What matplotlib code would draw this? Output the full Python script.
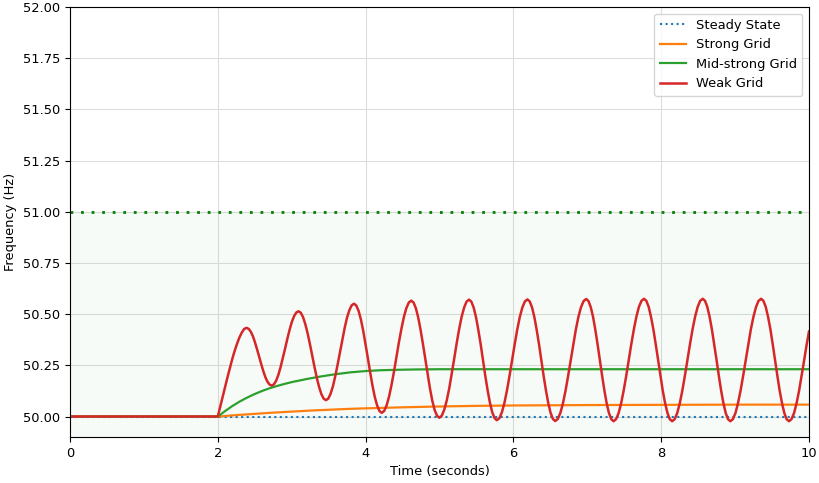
import matplotlib
matplotlib.use("Agg")
import matplotlib.pyplot as plt
from matplotlib.ticker import FormatStrFormatter

plt.rcParams["font.size"] = 9.4

# ---- data ----
steady_t = [0.0, 10.0]
steady_f = [50.0, 50.0]

strong_t = [0.0, 2.0, 2.25, 2.5, 2.75, 3.0, 3.25, 3.5, 3.75, 4.0, 4.5, 5.0, 5.5, 6.0, 7.0, 8.0, 9.0, 10.0]
strong_f = [50.0, 50.0, 50.007, 50.013, 50.019, 50.024, 50.029, 50.033, 50.037, 50.040, 50.045,
            50.049, 50.052, 50.054, 50.056, 50.057, 50.058, 50.058]

mid_t = [0.0, 2.0, 2.1, 2.2, 2.3, 2.4, 2.5, 2.6, 2.7, 2.8, 2.9, 3.0, 3.2, 3.4, 3.6, 3.8,
         4.0, 4.2, 4.4, 4.7, 5.0, 6.0, 8.0, 10.0]
mid_f = [50.0, 50.0, 50.027, 50.052, 50.074, 50.093, 50.110, 50.125, 50.138, 50.149, 50.159,
         50.168, 50.183, 50.196, 50.207, 50.216, 50.222, 50.226, 50.228, 50.230, 50.231,
         50.231, 50.231, 50.231]

weak_t = [0.0, 2.0,
          2.0325, 2.065, 2.0975, 2.13, 2.1625, 2.195, 2.2275, 2.26, 2.2925, 2.325, 2.3575, 2.39,
          2.418, 2.447, 2.475, 2.503, 2.531, 2.559, 2.588, 2.616, 2.644, 2.672, 2.701, 2.729,
          2.759, 2.790, 2.820, 2.850, 2.880, 2.911, 2.941, 2.971, 3.001, 3.032, 3.062, 3.092,
          3.123, 3.154, 3.185, 3.216, 3.247, 3.278, 3.309, 3.340, 3.371, 3.402, 3.433, 3.464,
          3.496, 3.527, 3.559, 3.590, 3.622, 3.654, 3.685, 3.717, 3.748, 3.780, 3.811, 3.843,
          3.874, 3.906, 3.937, 3.968, 3.999, 4.031, 4.062, 4.093, 4.124, 4.156, 4.187, 4.218,
          4.251, 4.285, 4.318, 4.351, 4.385, 4.418, 4.451, 4.485, 4.518, 4.551, 4.585, 4.618,
          4.650, 4.681, 4.713, 4.744, 4.776, 4.808, 4.839, 4.871, 4.902, 4.934, 4.966, 4.997,
          5.031, 5.064, 5.098, 5.132, 5.165, 5.199, 5.232, 5.266, 5.299, 5.333, 5.366, 5.400,
          5.431, 5.463, 5.494, 5.525, 5.557, 5.588, 5.619, 5.651, 5.682, 5.713, 5.745, 5.776,
          5.8105, 5.845, 5.8795, 5.914, 5.9485, 5.983, 6.0175, 6.052, 6.0865, 6.121, 6.1555, 6.190,
          6.221, 6.253, 6.284, 6.315, 6.347, 6.378, 6.409, 6.441, 6.472, 6.503, 6.535, 6.566,
          6.601, 6.636, 6.671, 6.706, 6.741, 6.776, 6.810, 6.845, 6.880, 6.915, 6.950, 6.985,
          7.016, 7.047, 7.078, 7.108, 7.139, 7.170, 7.201, 7.232, 7.262, 7.293, 7.324, 7.355,
          7.389, 7.424, 7.458, 7.492, 7.527, 7.561, 7.595, 7.630, 7.664, 7.698, 7.733, 7.767,
          7.799, 7.831, 7.862, 7.894, 7.926, 7.958, 7.989, 8.021, 8.053, 8.085, 8.116, 8.148,
          8.1825, 8.217, 8.2515, 8.286, 8.3205, 8.355, 8.3895, 8.424, 8.4585, 8.493, 8.5275, 8.562,
          8.593, 8.624, 8.655, 8.686, 8.717, 8.749, 8.780, 8.811, 8.842, 8.873, 8.904, 8.935,
          8.970, 9.005, 9.039, 9.074, 9.109, 9.144, 9.178, 9.213, 9.248, 9.283, 9.317, 9.352,
          9.383, 9.415, 9.446, 9.478, 9.509, 9.540, 9.572, 9.603, 9.635, 9.666, 9.697, 9.729,
          9.763, 9.798, 9.832, 9.866, 9.900, 9.935, 9.969, 10.0]
weak_f = [50.0, 50.0,
          50.048, 50.095, 50.143, 50.19, 50.236, 50.28, 50.32, 50.355, 50.386, 50.41, 50.428, 50.433,
          50.428, 50.414, 50.392, 50.3625, 50.3285, 50.292, 50.2555, 50.2215, 50.192, 50.170, 50.156, 50.151,
          50.157, 50.175, 50.204, 50.242, 50.2855, 50.3325, 50.3795, 50.423, 50.461, 50.490, 50.508, 50.514,
          50.507, 50.485, 50.450, 50.4055, 50.353, 50.297, 50.241, 50.1885, 50.144, 50.109, 50.087, 50.080,
          50.088, 50.112, 50.149, 50.198, 50.255, 50.3155, 50.376, 50.433, 50.482, 50.519, 50.543, 50.551,
          50.542, 50.515, 50.473, 50.418, 50.3535, 50.2845, 50.2155, 50.151, 50.096, 50.054, 50.027, 50.018,
          50.027, 50.055, 50.098, 50.155, 50.221, 50.292, 50.363, 50.429, 50.486, 50.529, 50.557, 50.566,
          50.556, 50.528, 50.482, 50.423, 50.354, 50.280, 50.206, 50.137, 50.078, 50.032, 50.004, 49.994,
          50.004, 50.033, 50.0785, 50.138, 50.208, 50.2825, 50.357, 50.427, 50.4865, 50.532, 50.561, 50.571,
          50.561, 50.5315, 50.485, 50.424, 50.353, 50.2765, 50.200, 50.129, 50.068, 50.0215, 49.992, 49.982,
          49.992, 50.0215, 50.068, 50.1295, 50.2005, 50.277, 50.353, 50.4245, 50.486, 50.5325, 50.562, 50.572,
          50.562, 50.532, 50.485, 50.4235, 50.352, 50.275, 50.198, 50.1265, 50.065, 50.018, 49.988, 49.978,
          49.988, 50.018, 50.065, 50.127, 50.199, 50.276, 50.353, 50.425, 50.487, 50.534, 50.564, 50.574,
          50.564, 50.534, 50.4865, 50.425, 50.353, 50.2755, 50.198, 50.126, 50.0645, 50.017, 49.987, 49.977,
          49.987, 50.017, 50.065, 50.1265, 50.199, 50.276, 50.353, 50.4255, 50.487, 50.535, 50.565, 50.575,
          50.565, 50.535, 50.487, 50.4255, 50.353, 50.276, 50.199, 50.1265, 50.065, 50.017, 49.987, 49.977,
          49.987, 50.017, 50.065, 50.1265, 50.199, 50.276, 50.353, 50.4255, 50.487, 50.535, 50.565, 50.575,
          50.565, 50.535, 50.487, 50.4255, 50.353, 50.276, 50.199, 50.1265, 50.065, 50.017, 49.987, 49.977,
          49.987, 50.017, 50.065, 50.1265, 50.199, 50.276, 50.353, 50.4255, 50.487, 50.535, 50.565, 50.575,
          50.565, 50.535, 50.487, 50.4255, 50.353, 50.276, 50.199, 50.1265, 50.065, 50.017, 49.987, 49.977,
          49.987, 50.017, 50.065, 50.1265, 50.199, 50.276, 50.353, 50.415]

limit_f = 51.0
series_labels = ["Steady State", "Strong Grid", "Mid-strong Grid", "Weak Grid"]

# ---- plot ----
fig = plt.figure(figsize=(8.19, 4.83), dpi=100)
ax = fig.add_axes([70 / 819, 1 - 437 / 483, (809 - 70) / 819, (437 - 7) / 483])

ax.axhspan(49.0, limit_f, color="green", alpha=0.03, lw=0)
ax.axhline(limit_f, color="green", lw=2, linestyle=(0, (1, 2.8)))

ax.plot(steady_t, steady_f, ":", color="C0", lw=1.5, label=series_labels[0])
ax.plot(strong_t, strong_f, color="C1", lw=1.6, label=series_labels[1])
ax.plot(mid_t, mid_f, color="C2", lw=1.6, label=series_labels[2])
ax.plot(weak_t, weak_f, color="C3", lw=1.8, label=series_labels[3])

ax.set_xlim(0, 10)
ax.set_ylim(49.9, 52.0)
ax.set_yticks([50.0 + 0.25 * i for i in range(9)])
ax.yaxis.set_major_formatter(FormatStrFormatter("%.2f"))
ax.grid(True, color="#dddddd", lw=0.8)
ax.set_axisbelow(True)
ax.set_xlabel("Time (seconds)")
ax.set_ylabel("Frequency (Hz)")
ax.legend(loc="upper right")

fig.savefig("out.png", dpi=100)
